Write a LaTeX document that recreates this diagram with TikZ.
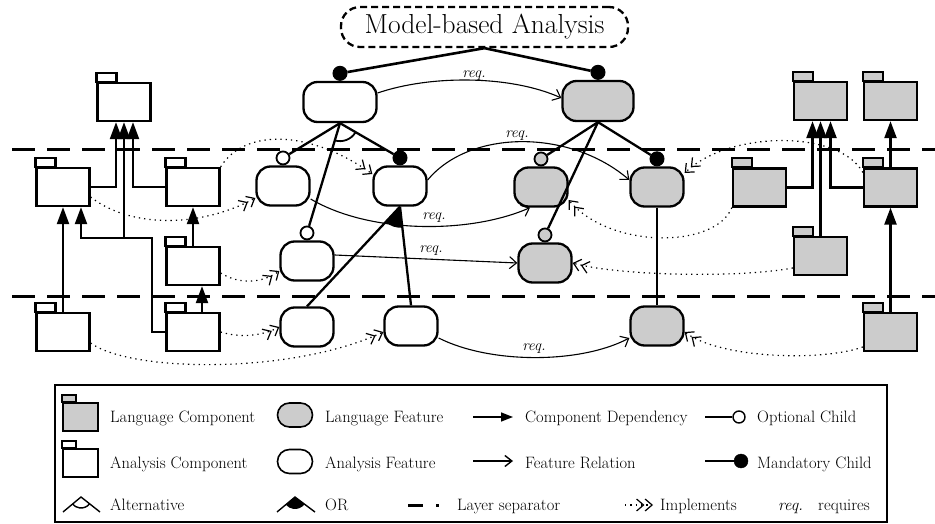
\documentclass[tikz,border=0pt]{standalone}
\usetikzlibrary{arrows.meta}
\definecolor{fgray}{RGB}{204,204,204}
\newcommand{\mkfolder}[4]{%
  \node[folderbody, fill=#4] (#1) at (#2,#3) {};
  \draw[line width=2.3pt, fill=#4] (#1.north west) rectangle ++(20,-9);
}
\tikzset{
  folderbody/.style={draw, rectangle, line width=2.3pt, minimum width=53pt, minimum height=38pt, inner sep=0pt},
  feat/.style={draw, rectangle, line width=2.3pt, rounded corners=14pt, minimum width=53pt, minimum height=39pt, inner sep=0pt, fill=white},
  lfeat/.style={feat, fill=fgray},
  optc/.style={circle, draw, line width=1.8pt, minimum size=13pt, inner sep=0pt, fill=white, anchor=south},
  mandc/.style={circle, draw, line width=1pt, fill=black, minimum size=14pt, inner sep=0pt, anchor=south},
  tree/.style={line width=2.3pt},
  dep/.style={line width=2.3pt, -{Triangle[length=17pt,width=12pt]}},
  rel/.style={line width=1.1pt, -{Straight Barb[length=7pt,width=12pt]}},
  impl/.style={line width=1.2pt, dash pattern=on 1.3pt off 4pt, -{Straight Barb[length=7pt,width=12pt] Straight Barb[length=7pt,width=12pt]}},
  sepline/.style={line width=3pt, dash pattern=on 23pt off 12pt},
  reqlbl/.style={font=\fontsize{15.4}{17}\selectfont\itshape, inner sep=0pt, anchor=base},
  legtext/.style={font=\fontsize{16.5}{19}\selectfont, anchor=base west, inner sep=0pt},
}
\begin{document}
\begin{tikzpicture}[x=1pt, y=-1pt]
\useasboundingbox (0,0) rectangle (935,524);

% layer separators
\coordinate (s1a) at (12,150); \coordinate (s1b) at (935,150);
\coordinate (s2a) at (12,296); \coordinate (s2b) at (935,296);
\draw[sepline] (s1a) -- (s1b);
\draw[sepline] (s2a) -- (s2b);

% title
\node[draw, line width=2.3pt, dash pattern=on 7pt off 4pt, rounded corners=19pt, minimum width=287pt, minimum height=40pt, inner sep=0pt, font=\fontsize{27.5}{32}\selectfont] (title) at (484.5,27) {Model-based Analysis};

% features
\node[feat, minimum width=73pt, minimum height=40pt] (TL) at (340,102) {};
\node[lfeat, minimum width=71pt, minimum height=40pt] (TR) at (598,101) {};
\node[feat] (A) at (283,186) {};
\node[feat] (B) at (400,186) {};
\node[lfeat] (C) at (541,187) {};
\node[lfeat] (D) at (657,187) {};
\node[feat] (E) at (307,261) {};
\node[lfeat] (F) at (545,263) {};
\node[feat] (G) at (307,327) {};
\node[feat] (H) at (411,326) {};
\node[lfeat] (I) at (657,326) {};

% markers
\node[mandc] (TLc) at (TL.north) {};
\node[mandc] (TRc) at (TR.north) {};
\node[optc] (Ac) at (A.north) {};
\node[mandc] (Bc) at (B.north) {};
\node[optc, fill=fgray] (Cc) at (C.north) {};
\node[mandc] (Dc) at (D.north) {};
\node[optc] (Ec) at (E.north) {};
\node[optc, fill=fgray] (Fc) at (F.north) {};

% folders left (analysis components)
\mkfolder{LT}{124}{102}{white}
\mkfolder{L2a}{63}{187}{white}
\mkfolder{L2b}{193}{187}{white}
\mkfolder{L3}{193}{266}{white}
\mkfolder{L4}{193}{332}{white}
\mkfolder{L5}{63}{332}{white}
% folders right (language components)
\mkfolder{RT1}{820.5}{101}{fgray}
\mkfolder{RT2}{890.5}{101}{fgray}
\mkfolder{R2a}{759.5}{187.5}{fgray}
\mkfolder{R2b}{890.5}{187.5}{fgray}
\mkfolder{R3}{820.5}{256}{fgray}
\mkfolder{R4}{890.5}{332}{fgray}

% tree edges
\draw[line width=2.6pt] (title.south) -- (TLc);
\draw[line width=2.6pt] (title.south) -- (TRc);
\draw[tree] (TL.south) -- (Ac);
\draw[tree] (TL.south) -- (Bc);
\draw[tree] (TL.south) -- (Ec);
\draw[tree] (TR.south) -- (Cc);
\draw[tree] (TR.south) -- (Dc);
\draw[tree] (TR.south) -- (Fc);
\draw[tree] (D.south) -- (I.north);
\draw[tree] (B.south) -- (G.north);
\draw[tree] (B.south) -- (H.north);
% alternative arc
\draw[line width=1.8pt] (TL.south) ++(32:18) arc[start angle=32, end angle=106.3, radius=18];
% OR sector
\fill (B.south) -- ++(83.7:21) arc[start angle=83.7, end angle=132.6, radius=21] -- cycle;

% component dependencies left
\coordinate (j1) at (152,238);
\coordinate (j2) at (124,238);
\draw[dep] (L2a.east) -| ([xshift=-8pt]LT.south);
\draw[dep] (L2b.west) -| ([xshift=9pt]LT.south);
\draw[dep] (L4.west) -| (j1) -- (j2) -- (LT.south);
\draw[dep] (j2) -| ([xshift=18pt]L2a.south);
\draw[dep] (L5.north) -- (L2a.south);
\draw[dep] ([xshift=9pt]L4.north) -- ([xshift=9pt]L3.south);
\draw[dep] (L3.north) -- (L2b.south);
% component dependencies right
\draw[dep] (R2a.east) -| ([xshift=-8pt]RT1.south);
\draw[dep] (R2b.west) -| ([xshift=10pt]RT1.south);
\draw[dep] (R3.north) -- (RT1.south);
\draw[dep] (R2b.north) -- (RT2.south);
\draw[dep] (R4.north) -- (R2b.south);

% feature relations (requires)
\draw[rel] ([yshift=9pt]TL.east) .. controls (430,75) and (510,75) .. ([yshift=3pt]TR.west);
\node[reqlbl] (rq1) at (474,77.5) {req.};
\draw[rel] ([yshift=6pt]B.east) .. controls (470,129) and (570,129) .. ([yshift=7pt]D.west);
\node[reqlbl] (rq2) at (517,138) {req.};
\draw[rel] ([yshift=-13pt]A.east) .. controls (370,234) and (470,234) .. ([xshift=-11pt]C.south);
\node[reqlbl] (rq3) at (434,219) {req.};
\draw[rel] ([yshift=6pt]E.east) -- (F.west);
\node[reqlbl] (rq4) at (431,252) {req.};
\draw[rel] ([yshift=-12pt]H.east) .. controls (490,364) and (580,364) .. ([yshift=-12pt]I.west);
\node[reqlbl] (rq5) at (534,350) {req.};

% implements
\draw[impl] ([yshift=-10pt]L2a.east) .. controls (130,228) and (200,228) .. ([yshift=-12pt]A.west);
\draw[impl] (L2b.north east) .. controls (245,128) and (310,130) .. ([yshift=12pt]B.west);
\draw[impl] ([yshift=-7pt]L3.east) .. controls (240,285) and (262,283) .. ([yshift=-10pt]E.west);
\draw[impl] (L4.east) .. controls (240,338) and (262,336) .. (G.west);
\draw[impl] ([yshift=-11pt]L5.east) .. controls (130,372) and (290,375) .. ([yshift=-6pt]H.west);
\draw[impl] (R2a.south west) .. controls (715,249) and (610,249) .. ([yshift=-13pt]C.east);
\draw[impl] ([yshift=15pt]R2b.west) .. controls (840,130) and (730,130) .. ([yshift=14pt]D.east);
\draw[impl] ([yshift=-12pt]R3.west) .. controls (740,278) and (620,276) .. (F.east);
\draw[impl] ([yshift=-15pt]R4.west) .. controls (820,362) and (720,358) .. ([yshift=-6pt]I.east);

% legend
\node[draw, line width=2.3pt, minimum width=832pt, minimum height=137pt, inner sep=0pt] (legend) at (471,453.5) {};
% row 1
\node[draw, line width=1.6pt, fill=fgray, minimum width=35pt, minimum height=28pt, inner sep=0pt] (lgf) at (80.5,417) {};
\draw[line width=1.6pt, fill=fgray] (lgf.north west) rectangle ++(14,-7);
\node[legtext] (t1) at (110,422) {Language Component};
\node[draw, line width=1.6pt, fill=fgray, rounded corners=12pt, minimum width=35pt, minimum height=24pt, inner sep=0pt] (lgo) at (295,415) {};
\node[legtext] (t2) at (325,422) {Language Feature};
\coordinate (cd1) at (473,417); \coordinate (cd2) at (513,417);
\draw[line width=1.6pt, -{Triangle[length=12pt,width=9pt]}] (cd1) -- (cd2);
\node[legtext] (t3) at (525,422) {Component Dependency};
\node[circle, draw, line width=1.4pt, fill=white, minimum size=12pt, inner sep=0pt] (oc) at (739,417) {};
\coordinate (oc1) at (705,417);
\draw[line width=1.6pt] (oc1) -- (oc);
\node[legtext] (t4) at (757,422) {Optional Child};
% row 2
\node[draw, line width=1.6pt, fill=white, minimum width=35pt, minimum height=28pt, inner sep=0pt] (lwf) at (80.5,463) {};
\draw[line width=1.6pt] (lwf.north west) rectangle ++(14,-7);
\node[legtext] (t5) at (110,468) {Analysis Component};
\node[draw, line width=1.6pt, fill=white, rounded corners=12pt, minimum width=35pt, minimum height=24pt, inner sep=0pt] (lwo) at (295,461.5) {};
\node[legtext] (t6) at (325,468) {Analysis Feature};
\coordinate (fr1) at (473,461); \coordinate (fr2) at (513,461);
\draw[line width=1.4pt, -{Straight Barb[length=7pt,width=11pt]}] (fr1) -- (fr2);
\node[legtext] (t7) at (525,468) {Feature Relation};
\node[circle, draw, fill=black, minimum size=14pt, inner sep=0pt] (mc) at (741,461) {};
\coordinate (mc1) at (705,461);
\draw[line width=1.6pt] (mc1) -- (mc);
\node[legtext] (t8) at (757,468) {Mandatory Child};
% row 3
\coordinate (alt) at (81,497);
\coordinate (alt1) at (63,512); \coordinate (alt2) at (100,512);
\draw[line width=1.4pt] (alt1) -- (alt) -- (alt2);
\draw[line width=1.4pt] (alt) ++(38:11) arc[start angle=38, end angle=140, radius=11];
\node[legtext] (t9) at (110,510) {Alternative};
\coordinate (orp) at (295,497);
\coordinate (or1) at (277,512); \coordinate (or2) at (315,512);
\draw[line width=1.4pt] (or1) -- (orp) -- (or2);
\fill (orp) -- ++(38:12) arc[start angle=38, end angle=140, radius=12] -- cycle;
\node[legtext] (t10) at (325,510) {OR};
\coordinate (ls1) at (408,505); \coordinate (ls2) at (423,505);
\draw[line width=3pt] (ls1) -- (ls2);
\coordinate (ls3) at (436,505); \coordinate (ls4) at (438.5,505);
\draw[line width=3pt] (ls3) -- (ls4);
\node[legtext] (t11) at (457,510) {Layer separator};
\coordinate (im1) at (625,505); \coordinate (im2) at (653,505);
\draw[impl] (im1) -- (im2);
\node[legtext] (t12) at (660,510) {Implements};
\node[legtext, font=\fontsize{16.5}{19}\selectfont\itshape] (t13) at (778,510) {req.};
\node[legtext, anchor=base east] (t14) at (870,510) {requires};
\end{tikzpicture}
\end{document}
